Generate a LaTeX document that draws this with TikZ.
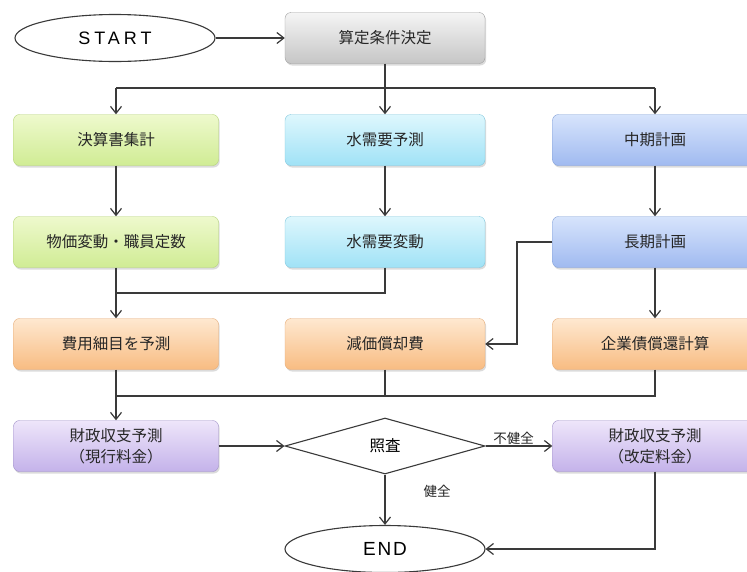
\documentclass[tikz,border=0pt]{standalone}
\usepackage{fontspec}
\setmainfont{Noto Sans CJK JP}
\newfontfamily\latinsp[LetterSpace=22]{Liberation Sans}
\newfontfamily\latinend[LetterSpace=10]{Liberation Sans}
\usetikzlibrary{shapes.geometric,arrows.meta,shadows}
\definecolor{linec}{HTML}{3A3A3A}
\tikzset{
  box/.style={rectangle, rounded corners=6pt, minimum width=205pt, minimum height=51pt,
    inner sep=2pt, align=center, font=\fontsize{15.5pt}{21pt}\selectfont, text=black!85,
    drop shadow={shadow xshift=1.2pt, shadow yshift=-2pt, opacity=0.28}},
  graybox/.style={box, draw=gray!75, top color=gray!8, bottom color=gray!45},
  greenbox/.style={box, draw={rgb,255:red,180;green,212;blue,120}, top color={rgb,255:red,238;green,249;blue,205}, bottom color={rgb,255:red,208;green,236;blue,148}},
  cyanbox/.style={box, draw={rgb,255:red,130;green,200;blue,222}, top color={rgb,255:red,222;green,247;blue,253}, bottom color={rgb,255:red,160;green,226;blue,246}},
  bluebox/.style={box, draw={rgb,255:red,130;green,160;blue,215}, top color={rgb,255:red,215;green,228;blue,252}, bottom color={rgb,255:red,160;green,186;blue,240}},
  orangebox/.style={box, draw={rgb,255:red,230;green,172;blue,120}, top color={rgb,255:red,254;green,232;blue,208}, bottom color={rgb,255:red,248;green,188;blue,130}},
  purplebox/.style={box, draw={rgb,255:red,160;green,145;blue,200}, top color={rgb,255:red,238;green,230;blue,250}, bottom color={rgb,255:red,196;green,178;blue,234}},
  terminal/.style={ellipse, draw=linec, line width=1.1pt, fill=white, minimum width=200pt, minimum height=47pt, inner sep=0pt},
  decision/.style={diamond, draw=linec, line width=1.1pt, fill=white, minimum width=200pt, minimum height=56pt, inner sep=0pt, aspect=3.5, font=\fontsize{15.5pt}{18pt}\selectfont},
  conn/.style={draw=linec, line width=1.2pt},
  arr/.style={conn, -{Straight Barb[length=7pt,width=11pt,line width=1.2pt]}},
  lbl/.style={font=\fontsize{13.5pt}{16pt}\selectfont, text=black!85, inner sep=1pt}
}
\begin{document}
\begin{tikzpicture}[x=1pt,y=-1pt]
\useasboundingbox (0,0) rectangle (747,571);
\clip (0,0) rectangle (747,571);
\fill[white] (0,0) rectangle (747,571);
% row 0
\node[terminal] (start) at (115,38) {\latinsp\fontsize{18pt}{20pt}\selectfont START};
\node[graybox, minimum width=200pt] (cond) at (385,38) {算定条件決定};
% row 1
\node[greenbox] (b11) at (116,140) {決算書集計};
\node[cyanbox, minimum width=200pt] (b12) at (385,140) {水需要予測};
\node[bluebox] (b13) at (655,140) {中期計画};
% row 2
\node[greenbox] (b21) at (116,242) {物価変動・職員定数};
\node[cyanbox, minimum width=200pt] (b22) at (385,242) {水需要変動};
\node[bluebox] (b23) at (655,242) {長期計画};
% row 3
\node[orangebox] (b31) at (116,344) {費用細目を予測};
\node[orangebox, minimum width=200pt] (b32) at (385,344) {減価償却費};
\node[orangebox] (b33) at (655,344) {企業債償還計算};
% row 4
\node[purplebox] (b41) at (116,446) {財政収支予測\\（現行料金）};
\node[decision] (chk) at (385,446) {照査};
\node[purplebox] (b43) at (655,446) {財政収支予測\\（改定料金）};
\node[terminal] (end) at (385,549) {\latinend\fontsize{19pt}{21pt}\selectfont END};
% coordinates
\coordinate (j1) at (385,88);
\coordinate (j2) at (116,293);
\coordinate (k) at (517,242);
\coordinate (j3) at (116,396);
% connectors
\draw[arr] (start.east) -- (cond.west);
\draw[conn] (cond.south) -- (j1);
\draw[conn] (b11.north |- j1) -- (b13.north |- j1);
\draw[arr] (b11.north |- j1) -- (b11.north);
\draw[arr] (j1) -- (b12.north);
\draw[arr] (b13.north |- j1) -- (b13.north);
\draw[arr] (b11.south) -- (b21.north);
\draw[arr] (b12.south) -- (b22.north);
\draw[arr] (b13.south) -- (b23.north);
\draw[conn] (b21.south) -- (j2);
\draw[conn] (b22.south) |- (j2);
\draw[arr] (j2) -- (b31.north);
\draw[arr] (b23.west) -- (k) |- (b32.east);
\draw[arr] (b23.south) -- (b33.north);
\draw[conn] (b31.south) -- (j3);
\draw[conn] (b32.south) |- (j3);
\draw[conn] (b33.south) |- (j3);
\draw[arr] (j3) -- (b41.north);
\draw[arr] (b41.east) -- (chk.west);
\draw[arr] (chk.east) -- node[lbl, above, pos=0.42] {不健全} (b43.west);
\draw[arr] (chk.south) -- (end.north);
\node[lbl] (ok) at (437,491) {健全};
\draw[arr] (b43.south) |- (end.east);
\end{tikzpicture}
\end{document}
